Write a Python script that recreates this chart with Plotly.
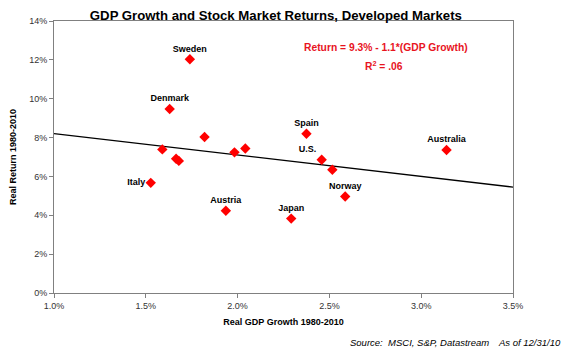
import plotly.graph_objects as go

# Data (percent)
countries = ["Sweden", "Denmark", "", "", "", "Italy", "", "", "", "Spain",
             "U.S.", "", "Norway", "Austria", "Japan", "Australia"]
gdp_growth = [1.74, 1.63, 1.59, 1.665, 1.68, 1.527, 1.82, 1.983, 2.042, 2.375,
              2.458, 2.516, 2.586, 1.936, 2.292, 3.138]
real_return = [12.03, 9.47, 7.39, 6.91, 6.80, 5.67, 8.03, 7.24, 7.44, 8.20,
               6.86, 6.34, 4.97, 4.23, 3.83, 7.36]

trend_intercept = 9.3
trend_slope = -1.1
x_range = [1.0, 3.5]
y_range = [0, 14]
x_ticks = [1.0, 1.5, 2.0, 2.5, 3.0, 3.5]
y_ticks = [0, 2, 4, 6, 8, 10, 12, 14]

label_pos = {"Italy": "middle left", "U.S.": "top left"}

FONT = "Liberation Sans, Arial, sans-serif"

fig = go.Figure()

fig.add_trace(go.Scatter(
    x=x_range,
    y=[trend_intercept + trend_slope * v for v in x_range],
    mode="lines",
    line=dict(color="black", width=1.3),
    hoverinfo="skip",
    showlegend=False,
))

fig.add_trace(go.Scatter(
    x=gdp_growth, y=real_return,
    mode="markers",
    marker=dict(symbol="diamond", size=8, color="#FF0000", line=dict(width=0)),
    showlegend=False,
))

lab = [(c, x, y) for c, x, y in zip(countries, gdp_growth, real_return) if c]
fig.add_trace(go.Scatter(
    x=[t[1] for t in lab], y=[t[2] for t in lab],
    mode="markers+text",
    text=["<b>%s</b>" % t[0] for t in lab],
    textposition=[label_pos.get(t[0], "top center") for t in lab],
    textfont=dict(family=FONT, size=9, color="black"),
    marker=dict(symbol="diamond", size=7, color="rgba(0,0,0,0)", line=dict(width=0)),
    hoverinfo="skip",
    showlegend=False,
))

axis_font = dict(family=FONT, size=9, color="#333333")

fig.update_layout(
    width=570, height=352,
    margin=dict(l=50, r=57, t=21, b=59),
    paper_bgcolor="white", plot_bgcolor="white",
    title=dict(
        text="<b>GDP Growth and Stock Market Returns, Developed Markets</b>",
        x=0.484, xanchor="center", y=1 - 15 / 352, yanchor="middle",
        font=dict(family=FONT, size=13.2, color="black"),
    ),
    xaxis=dict(
        range=x_range, tickvals=x_ticks,
        ticktext=["%.1f%%" % v for v in x_ticks],
        showgrid=False, zeroline=False,
        showline=True, linecolor="#808080", linewidth=1, mirror=True,
        ticks="outside", ticklen=4, tickcolor="#808080",
        tickfont=axis_font,
        title=dict(text="<b>Real GDP Growth 1980-2010</b>", standoff=8,
                   font=dict(family=FONT, size=9, color="black")),
    ),
    yaxis=dict(
        range=y_range, tickvals=y_ticks,
        ticktext=["%d%%" % v for v in y_ticks],
        showgrid=False, zeroline=False,
        showline=True, linecolor="#808080", linewidth=1, mirror=True,
        ticks="outside", ticklen=4, tickcolor="#808080",
        tickfont=axis_font,
        title=dict(text="<b>Real Return 1980-2010</b>", standoff=11,
                   font=dict(family=FONT, size=9, color="black")),
    ),
    annotations=[
        dict(text="<b>Return = 9.3% - 1.1*(GDP Growth)</b>", xref="paper", yref="paper",
             x=0.7235, y=0.904, xanchor="center", yanchor="middle", showarrow=False,
             font=dict(family=FONT, size=10.3, color="#E8141E")),
        dict(text="<b>R<sup>2</sup> = .06</b>", xref="paper", yref="paper",
             x=0.719, y=0.835, xanchor="center", yanchor="middle", showarrow=False,
             font=dict(family=FONT, size=10.3, color="#E8141E")),
        dict(text="<i>Source:  MSCI, S&P, Datastream</i>", xref="paper", yref="paper",
             x=(347 - 50) / 463, y=(293 - 342) / 272, xanchor="left", yanchor="middle",
             showarrow=False,
             font=dict(family=FONT, size=9.5, color="black")),
        dict(text="<i>As of 12/31/10</i>", xref="paper", yref="paper",
             x=(563 - 50) / 463, y=(293 - 342) / 272, xanchor="right", yanchor="middle",
             showarrow=False,
             font=dict(family=FONT, size=9.5, color="black")),
    ],
)

fig.write_html("out.html")
